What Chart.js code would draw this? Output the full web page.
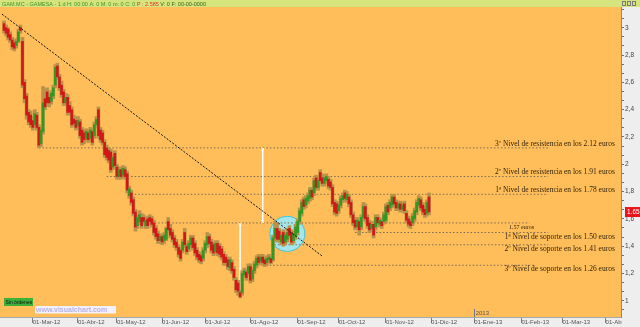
<!DOCTYPE html>
<html><head><meta charset="utf-8">
<script src="https://cdn.jsdelivr.net/npm/chart.js@4/dist/chart.umd.min.js"></script>
<style>html,body{margin:0;padding:0;background:#EEEEEE;overflow:hidden}#wrap{width:640px;height:327px;position:relative}</style>
</head><body><div id="wrap"><canvas id="c" width="640" height="327"></canvas></div>
<script>
// ---- DATA (GAMESA daily candles, trading-day index 0 = 10-Feb-2012) ----
const opens = [
3.03,3.00,2.99,2.95,2.91,2.89,2.87,2.90,3.00,2.90,
2.60,2.50,2.38,2.36,2.32,2.29,2.36,2.27,2.15,2.24,
2.48,2.53,2.49,2.46,2.50,2.58,2.72,2.64,2.58,2.53,
2.45,2.49,2.43,2.40,2.33,2.32,2.28,2.31,2.25,2.23,
2.19,2.23,2.19,2.24,2.21,2.29,2.40,2.25,2.23,2.16,
2.12,2.10,2.09,1.98,2.08,1.98,1.91,1.96,1.92,1.96,
1.93,1.77,1.79,1.74,1.65,1.55,1.58,1.61,1.61,1.55,
1.60,1.61,1.60,1.57,1.53,1.49,1.44,1.47,1.44,1.45,
1.58,1.53,1.50,1.46,1.43,1.39,1.37,1.37,1.50,1.40,
1.38,1.41,1.46,1.42,1.37,1.34,1.33,1.31,1.37,1.41,
1.47,1.43,1.41,1.36,1.42,1.40,1.38,1.34,1.32,1.30,
1.24,1.28,1.23,1.15,1.13,1.06,1.06,1.19,1.21,1.20,
1.25,1.16,1.22,1.26,1.32,1.29,1.32,1.30,1.28,1.30,
1.31,1.30,1.46,1.53,1.51,1.43,1.50,1.43,1.45,1.53,
1.50,1.44,1.47,1.50,1.58,1.64,1.74,1.70,1.73,1.75,
1.81,1.79,1.90,1.83,1.94,1.90,1.86,1.88,1.89,1.87,
1.83,1.72,1.71,1.66,1.70,1.74,1.79,1.74,1.76,1.72,
1.63,1.59,1.54,1.58,1.54,1.61,1.69,1.61,1.57,1.53,
1.56,1.54,1.61,1.56,1.58,1.58,1.59,1.70,1.68,1.70,
1.76,1.72,1.68,1.71,1.67,1.71,1.64,1.60,1.58,1.57,
1.60,1.65,1.70,1.74,1.70,1.67,1.64,1.76];
const highs = [
3.05,3.02,3.00,2.97,2.93,2.91,2.92,2.99,3.02,2.93,
2.62,2.52,2.40,2.39,2.35,2.40,2.38,2.29,2.27,2.57,
2.55,2.56,2.51,2.54,2.58,2.73,2.74,2.66,2.61,2.55,
2.52,2.51,2.46,2.42,2.36,2.34,2.35,2.33,2.27,2.25,
2.26,2.25,2.27,2.26,2.31,2.35,2.42,2.27,2.25,2.18,
2.14,2.12,2.11,2.07,2.10,2.00,1.98,1.98,1.99,1.98,
1.95,1.84,1.81,1.76,1.67,1.63,1.66,1.64,1.63,1.61,
1.62,1.63,1.62,1.59,1.55,1.51,1.49,1.49,1.50,1.54,
1.61,1.56,1.52,1.48,1.45,1.41,1.39,1.45,1.53,1.42,
1.44,1.48,1.48,1.44,1.39,1.36,1.35,1.39,1.44,1.50,
1.49,1.45,1.43,1.44,1.44,1.42,1.40,1.36,1.34,1.32,
1.32,1.30,1.25,1.17,1.15,1.08,1.22,1.24,1.23,1.27,
1.27,1.24,1.29,1.33,1.34,1.34,1.34,1.32,1.33,1.34,
1.33,1.48,1.58,1.57,1.53,1.50,1.52,1.50,1.53,1.55,
1.52,1.51,1.56,1.60,1.68,1.74,1.76,1.77,1.79,1.83,
1.83,1.90,1.92,1.90,1.96,1.93,1.92,1.93,1.91,1.89,
1.85,1.74,1.73,1.72,1.77,1.79,1.81,1.80,1.78,1.74,
1.65,1.61,1.61,1.60,1.63,1.72,1.71,1.63,1.59,1.58,
1.58,1.63,1.63,1.61,1.60,1.65,1.71,1.72,1.74,1.78,
1.78,1.74,1.73,1.73,1.72,1.73,1.66,1.62,1.60,1.64,
1.68,1.74,1.77,1.76,1.72,1.69,1.74,1.79];
const lows = [
2.96,2.94,2.91,2.89,2.84,2.83,2.85,2.89,2.96,2.56,
2.45,2.33,2.29,2.27,2.25,2.27,2.25,2.12,2.13,2.22,
2.40,2.43,2.42,2.44,2.48,2.56,2.62,2.54,2.49,2.43,
2.43,2.36,2.36,2.27,2.28,2.25,2.26,2.19,2.14,2.15,
2.17,2.16,2.17,2.14,2.19,2.27,2.19,2.16,2.14,2.05,
2.03,2.01,1.94,1.96,1.97,1.89,1.89,1.89,1.90,1.89,
1.79,1.75,1.70,1.62,1.51,1.53,1.56,1.53,1.56,1.53,
1.53,1.56,1.54,1.48,1.45,1.42,1.42,1.41,1.42,1.44,
1.50,1.46,1.43,1.39,1.37,1.32,1.29,1.35,1.39,1.34,
1.36,1.39,1.37,1.33,1.30,1.28,1.27,1.29,1.35,1.39,
1.40,1.35,1.33,1.34,1.33,1.32,1.30,1.26,1.26,1.23,
1.22,1.20,1.15,1.06,1.04,1.02,1.04,1.17,1.15,1.18,
1.13,1.14,1.20,1.24,1.26,1.27,1.26,1.25,1.26,1.28,
1.27,1.29,1.44,1.43,1.43,1.41,1.40,1.41,1.43,1.46,
1.41,1.42,1.45,1.48,1.56,1.62,1.67,1.68,1.71,1.73,
1.74,1.77,1.81,1.81,1.86,1.84,1.84,1.86,1.82,1.81,
1.69,1.63,1.62,1.64,1.68,1.72,1.73,1.72,1.69,1.61,
1.55,1.52,1.52,1.48,1.52,1.59,1.58,1.53,1.50,1.51,
1.46,1.52,1.55,1.54,1.53,1.56,1.57,1.63,1.66,1.68,
1.69,1.66,1.66,1.65,1.65,1.64,1.57,1.54,1.53,1.55,
1.58,1.63,1.68,1.66,1.63,1.61,1.62,1.63];
const closes = [
2.98,2.96,2.93,2.91,2.86,2.85,2.90,2.97,2.98,2.58,
2.48,2.36,2.31,2.29,2.27,2.37,2.27,2.14,2.25,2.45,
2.42,2.45,2.45,2.52,2.56,2.71,2.64,2.56,2.51,2.45,
2.49,2.38,2.38,2.29,2.30,2.27,2.32,2.21,2.16,2.18,
2.24,2.18,2.25,2.16,2.29,2.33,2.21,2.18,2.16,2.07,
2.05,2.03,1.96,2.05,1.99,1.91,1.96,1.91,1.97,1.91,
1.81,1.82,1.72,1.64,1.54,1.61,1.63,1.55,1.58,1.59,
1.55,1.58,1.56,1.50,1.47,1.44,1.47,1.43,1.48,1.53,
1.52,1.48,1.45,1.41,1.39,1.34,1.31,1.43,1.41,1.36,
1.42,1.46,1.39,1.35,1.32,1.30,1.29,1.37,1.42,1.47,
1.42,1.37,1.35,1.42,1.35,1.34,1.32,1.28,1.28,1.25,
1.30,1.22,1.17,1.08,1.07,1.03,1.20,1.22,1.17,1.25,
1.15,1.22,1.27,1.31,1.28,1.32,1.28,1.27,1.31,1.32,
1.28,1.46,1.53,1.45,1.45,1.48,1.42,1.48,1.50,1.48,
1.43,1.49,1.54,1.58,1.66,1.72,1.69,1.75,1.77,1.81,
1.76,1.88,1.83,1.88,1.88,1.86,1.90,1.91,1.84,1.83,
1.71,1.65,1.64,1.70,1.75,1.77,1.75,1.78,1.71,1.63,
1.57,1.54,1.59,1.52,1.61,1.69,1.60,1.55,1.52,1.56,
1.48,1.61,1.57,1.59,1.55,1.63,1.69,1.65,1.72,1.76,
1.71,1.68,1.71,1.67,1.70,1.66,1.59,1.56,1.55,1.62,
1.66,1.72,1.75,1.68,1.65,1.63,1.72,1.65];

const monthTickIdx    = [14,36,55,77,98,120,143,163,186,208,229,252,272,293];
const monthTickLabels = ['01-Mar-12','01-Abr-12','01-May-12','01-Jun-12','01-Jul-12','01-Ago-12','01-Sep-12','01-Oct-12','01-Nov-12','01-Dic-12','01-Ene-13','01-Feb-13','01-Mar-13','01-Abr-13'];
const yTickValues = [1,1.2,1.4,1.6,1.8,2,2.2,2.4,2.6,2.8,3];
const yTickLabels = ['1','1,2','1,4','1,6','1,8','2','2,2','2,4','2,6','2,8','3'];

// support / resistance levels
const levelValues   = [2.12, 1.91, 1.78, 1.57, 1.50, 1.41, 1.26];
const levelStartIdx = [17, 50, 62, 70, 171, 130, 126];
const levelEndIdx   = [265, 265, 265, 256, 265, 265, 258];
const levelTexts = [
 '3º Nivel de resistencia en los 2.12 euros',
 '2º Nivel de resistencia en los 1.91 euros',
 '1ª Nivel de resistencia en los 1.78 euros',
 '1.57 euros',
 '1ª Nivel de soporte en los 1.50 euros',
 '2º Nivel de soporte en los 1.41 euros',
 '3º Nivel de soporte en los 1.26 euros'];
// bearish trend line (start / end)
const trendIdx = [-1, 155];
const trendVal = [3.10, 1.327];
// measuring lines
const measure1Idx = 126, measure1Vals = [2.11, 1.58];
const measure2Idx = 115, measure2Vals = [1.56, 1.04];
// highlighted zone
const zoneIdx = 138, zoneVal = 1.49;
const lastPrice = '1.65';
const headerParts = [
 ['GAM.MC - GAMESA - 1 d H: 00:00 A: 0 M: 0 m: 0 C: 0 ', '#3E8F2A'],
 ['P : 2.585 ', '#E0302A'],
 ['V: 0 F: 00-00-0000', '#2F5E1E']];

// ---- BUILD ----
const idx = closes.map((_, i) => i);
const wicks = idx.map(i => ({x: i, y: [lows[i], highs[i]]}));
const bodies = idx.map(i => ({x: i, y: [Math.min(opens[i], closes[i]), Math.max(opens[i], closes[i])]}));
const bodyColors = idx.map(i => closes[i] >= opens[i] ? '#2E9A22' : '#D01818');

const levelSets = levelValues.map((v, k) => ({
  type: 'line', data: [{x: levelStartIdx[k], y: v}, {x: levelEndIdx[k], y: v}],
  borderColor: '#7A6A58', borderWidth: 1, borderDash: [1.5, 2], pointRadius: 0, order: 5
}));

const bgPlugin = {
  id: 'bg',
  beforeDraw(chart) {
    const {ctx, chartArea: a} = chart;
    ctx.save();
    ctx.fillStyle = '#EEEEEE'; ctx.fillRect(0, 0, 640, 327);
    ctx.fillStyle = '#FFBE5A'; ctx.fillRect(a.left, a.top, a.right - a.left, a.bottom - a.top);
    ctx.fillStyle = '#D6E47E'; ctx.fillRect(0, 0, 640, a.top);
    ctx.restore();
  },
  afterDraw(chart) {
    const {ctx, chartArea: a, scales: {x, y}} = chart;
    ctx.save();
    // hide overflow of last x label
    ctx.fillStyle = '#EEEEEE'; ctx.fillRect(a.right + 1, a.bottom + 1, 640 - a.right, 327 - a.bottom);
    // header
    ctx.font = '5.5px "Liberation Sans", Arial, sans-serif';
    ctx.textBaseline = 'middle';
    let hx = 2;
    headerParts.forEach(([t, c]) => { ctx.fillStyle = c; ctx.fillText(t, hx, a.top / 2 + 0.5); hx += ctx.measureText(t).width; });
    // header icons
    ctx.fillStyle = '#7A7A7A';
    [622, 627, 632].forEach(px => { ctx.fillRect(px, 1, 4, 5); });
    ctx.fillStyle = '#D6E47E';
    [622, 627, 632].forEach(px => { ctx.fillRect(px + 1, 2, 2, 3); });
    // level texts
    levelValues.forEach((v, k) => {
      const py = y.getPixelForValue(v);
      const rx = x.getPixelForValue(297.5);
      ctx.fillStyle = '#2B1E08';
      if (k === 3) {
        ctx.font = '6px "Liberation Serif", "Times New Roman", serif';
        ctx.textAlign = 'left'; ctx.textBaseline = 'top';
        ctx.fillText(levelTexts[k], x.getPixelForValue(246), py + 1);
      } else {
        ctx.font = '7.5px "Liberation Serif", "Times New Roman", serif';
        ctx.textAlign = 'right';
        ctx.textBaseline = k < 3 ? 'bottom' : 'top';
        ctx.fillText(levelTexts[k], rx, k < 3 ? py - 0.5 : py + 0.5);
      }
    });
    // last price tag
    const ly = y.getPixelForValue(parseFloat(lastPrice));
    ctx.fillStyle = '#E8141A'; ctx.fillRect(a.right + 4, ly - 5, 640 - a.right - 4, 10);
    ctx.fillStyle = '#FFFFFF'; ctx.font = '6.5px "Liberation Sans", Arial, sans-serif';
    ctx.textAlign = 'left'; ctx.textBaseline = 'middle';
    ctx.fillText(lastPrice, a.right + 6, ly + 0.5);
    // 2013 year marker
    const jx = x.getPixelForValue(monthTickIdx[10]);
    ctx.strokeStyle = '#777'; ctx.lineWidth = 1;
    ctx.beginPath(); ctx.moveTo(Math.round(jx) + 0.5, a.bottom - 8); ctx.lineTo(Math.round(jx) + 0.5, a.bottom); ctx.stroke();
    ctx.fillStyle = '#555'; ctx.font = '6px "Liberation Sans", Arial, sans-serif';
    ctx.textAlign = 'left'; ctx.textBaseline = 'bottom';
    ctx.fillText('2013', jx + 1.5, a.bottom - 0.5);
    // order status box
    ctx.fillStyle = '#3DB03A'; ctx.fillRect(4, 298, 29, 8);
    ctx.fillStyle = '#111'; ctx.font = '5px "Liberation Sans", Arial, sans-serif';
    ctx.textBaseline = 'middle'; ctx.fillText('Sin órdenes', 5.5, 302.3);
    // watermark
    ctx.font = 'bold 7px "Liberation Sans", Arial, sans-serif';
    ctx.fillStyle = '#F4F0F8'; ctx.fillRect(35, 306, 81, 7.5);
    ctx.fillStyle = '#B7B4E6'; ctx.fillText('www.visualchart.com', 36, 310);
    ctx.restore();
  }
};

new Chart(document.getElementById('c'), {
  type: 'bar',
  data: {
    datasets: [
      {type: 'line', data: [{x: trendIdx[0], y: trendVal[0]}, {x: trendIdx[1], y: trendVal[1]}],
       borderColor: '#111111', borderWidth: 1, borderDash: [2, 1.5], pointRadius: 0, order: 1},
      {data: bodies, backgroundColor: bodyColors, barThickness: 2, grouped: false, borderWidth: 0, order: 2},
      {data: wicks, backgroundColor: '#B8924A', barThickness: 3, grouped: false, borderWidth: 0, order: 3},
      {type: 'line', data: [{x: measure1Idx, y: measure1Vals[0]}, {x: measure1Idx, y: measure1Vals[1]}],
       borderColor: '#FFFFFF', borderWidth: 1.5, pointStyle: 'crossRot', pointRadius: 2, pointBorderColor: '#FFFFFF', pointBorderWidth: 1, order: 4},
      {type: 'line', data: [{x: measure2Idx, y: measure2Vals[0]}, {x: measure2Idx, y: measure2Vals[1]}],
       borderColor: '#FFFFFF', borderWidth: 1.5, pointStyle: 'crossRot', pointRadius: 2, pointBorderColor: '#FFFFFF', pointBorderWidth: 1, order: 4},
      ...levelSets,
      {type: 'scatter', data: [{x: zoneIdx, y: zoneVal}], pointRadius: 17.5, pointBackgroundColor: '#A4E6EA',
       pointBorderColor: '#3EC6DA', pointBorderWidth: 1, order: 6}
    ]
  },
  options: {
    responsive: false, animation: false, events: [],
    layout: {autoPadding: false, padding: {top: 7, left: 0, right: 0, bottom: 0}},
    plugins: {legend: {display: false}, tooltip: {enabled: false}},
    scales: {
      x: {
        type: 'linear', min: -1.95, max: 300.5, offset: false,
        afterBuildTicks: s => { s.ticks = monthTickIdx.map(v => ({value: v})); },
        afterFit: s => { s.height = 10; s.paddingLeft = 0; s.paddingRight = 0; },
        ticks: {callback: (v, i) => monthTickLabels[i], align: 'start', padding: -4.5, color: '#555',
                font: {size: 6, family: '"Liberation Sans", Arial, sans-serif'}, maxRotation: 0, autoSkip: false},
        grid: {offset: false, drawOnChartArea: false, drawTicks: true, tickLength: 6, color: '#808080'},
        border: {color: '#A8A8A8'}
      },
      y: {
        type: 'linear', position: 'right', min: 0.881, max: 3.152,
        afterBuildTicks: s => { const t = []; for (let k = -1; k <= 32; k++) t.push({value: 1 + k * 0.2 / 3}); s.ticks = t; },
        afterFit: s => { s.width = 19; s.paddingTop = 0; s.paddingBottom = 0; },
        ticks: {callback: v => { const j = yTickValues.findIndex(t => Math.abs(t - v) < 1e-6); return j >= 0 ? yTickLabels[j] : ''; },
                padding: 1, color: '#444', font: {size: 6.5, family: '"Liberation Sans", Arial, sans-serif'}, autoSkip: false},
        grid: {drawOnChartArea: false, drawTicks: true, tickLength: 3, color: '#707070'},
        border: {color: '#8A8A8A'}
      }
    }
  },
  plugins: [bgPlugin]
});
</script></body></html>
